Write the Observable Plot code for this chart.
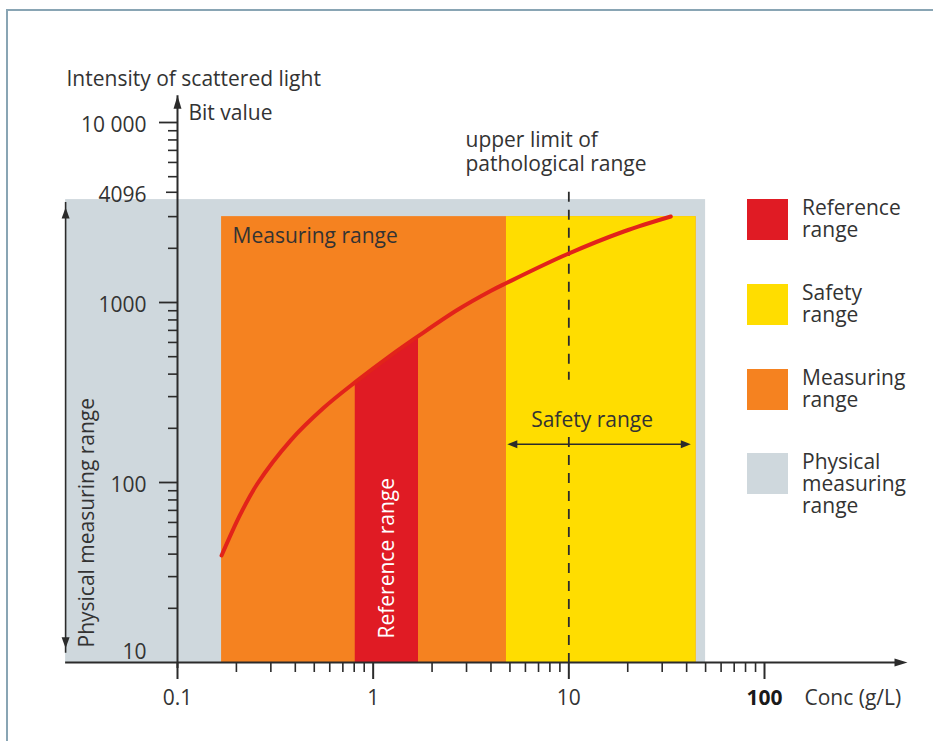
<!DOCTYPE html>
<html>
<head>
<meta charset="utf-8">
<script src="https://cdn.jsdelivr.net/npm/d3@7"></script>
<script src="https://cdn.jsdelivr.net/npm/@observablehq/plot@0.6"></script>
<style>
  body { margin: 0; background: #fff; font-family: 'Open Sans', sans-serif; }
  #wrap { position: relative; width: 933px; height: 741px; overflow: hidden; }
  #wrap svg { position: absolute; left: 0; top: 0; }
  #frame { position: absolute; left: 6px; top: 9px; width: 1000px; height: 1000px;
           border-left: 2px solid #89a5b4; border-top: 2px solid #89a5b4; pointer-events: none; }
  #legend { position: absolute; left: 747px; top: 199px; }
  .item { position: absolute; left: 0; }
  .sw { position: absolute; left: 0; top: 0; width: 41px; height: 41px; }
  .lb { position: absolute; left: 55px; top: -3px; font-size: 21px; line-height: 22px;
        color: #333; white-space: pre; }
</style>
</head>
<body>
<div id="wrap"><div id="frame"></div></div>
<script>
// ---------- data ----------
const concValues      = [0.168, 0.21, 0.256, 0.378, 0.559, 0.81, 1.226, 1.705, 2.69, 3.98, 4.8, 9.73, 19.1, 33.2];
const intensityValues = [39.3, 66.9, 98.4, 171, 260, 361, 507, 652, 908, 1158, 1283, 1848, 2480, 3005];

const physicalRangeConc       = [0.0268, 50];
const physicalRangeIntensity  = [10, 3730];
const measuringRangeConc      = [0.168, 44.7];
const measuringRangeIntensity = [10, 3000];
const safetyRangeConc         = [4.8, 44.7];
const referenceRangeConc      = [0.81, 1.705];
const pathologicalUpperLimit  = 10;
const dashedSegments          = [[4100, 370], [178, 10]];
const safetyArrowConc         = [4.85, 42];
const safetyArrowIntensity    = 163;
const physicalArrowIntensity  = [12, 3370];
const xAxisExtent             = [0.0268, 538];
const yAxisExtent             = [10, 14100];

const xMajorTicks = [0.1, 1, 10, 100];
const xMinorTicks = [0.2, 0.3, 0.4, 0.5, 0.6, 0.7, 0.8, 0.9, 2, 3, 4, 5, 6, 7, 8, 9, 20, 30, 40, 50, 60, 70, 80, 90];
const xTickLabels = ["0.1", "1", "10", "100"];
const yMajorTicks = [100, 1000, 10000];
const yMinorTicks = [20, 30, 40, 50, 60, 70, 80, 90, 200, 300, 400, 500, 600, 700, 800, 900, 2000, 3000, 5000, 6000, 7000, 8000, 9000];
const yBitTick    = [4096];
const yTickValues = [10, 100, 1000, 4096, 10000];
const yTickLabels = ["10", "100", "1000", "4096", "10 000"];

const annotationLines = ["upper limit of", "pathological range"];
const legendLabels = ["Reference\nrange", "Safety\nrange", "Measuring\nrange", "Physical\nmeasuring\nrange"];
const legendColors = ["#e01b24", "#ffdd00", "#f58220", "#cfd8dd"];

// ---------- styling ----------
const C = { grey: "#cfd8dd", orange: "#f58220", yellow: "#ffdd00", red: "#e01b24", curve: "#e2231a", ink: "#2b2b2b", text: "#333" };
const FONT = 21;

const curve = concValues.map((c, i) => ({ conc: c, intensity: intensityValues[i] }));
const refCurve = curve.filter(d => d.conc >= referenceRangeConc[0] && d.conc <= referenceRangeConc[1]);

function head(len, half, dir) {
  return { draw(ctx) {
    const pts = { up: [[0,0],[half,len],[-half,len]], down: [[0,0],[half,-len],[-half,-len]],
                  right: [[0,0],[-len,half],[-len,-half]], left: [[0,0],[len,half],[len,-half]] }[dir];
    ctx.moveTo(pts[0][0], pts[0][1]); ctx.lineTo(pts[1][0], pts[1][1]); ctx.lineTo(pts[2][0], pts[2][1]); ctx.closePath();
  }};
}

const ML = 177, MT = 122, MR = 933 - 764, MB = 741 - 662;
const txt = { fill: C.text, fontSize: FONT, fontFamily: "'Open Sans', sans-serif" };

const plot = Plot.plot({
  width: 933, height: 741,
  marginLeft: ML, marginTop: MT, marginRight: MR, marginBottom: MB,
  style: { background: "transparent", overflow: "visible", fontFamily: "'Open Sans', sans-serif" },
  x: { type: "log", domain: [0.1, 100], axis: null },
  y: { type: "log", domain: [10, 10000], axis: null },
  marks: [
    // ranges
    Plot.rect([0], { x1: physicalRangeConc[0], x2: physicalRangeConc[1], y1: physicalRangeIntensity[0], y2: physicalRangeIntensity[1], fill: C.grey }),
    Plot.rect([0], { x1: measuringRangeConc[0], x2: measuringRangeConc[1], y1: measuringRangeIntensity[0], y2: measuringRangeIntensity[1], fill: C.orange }),
    Plot.rect([0], { x1: safetyRangeConc[0], x2: safetyRangeConc[1], y1: measuringRangeIntensity[0], y2: measuringRangeIntensity[1], fill: C.yellow }),
    Plot.areaY(refCurve, { x: "conc", y1: 10, y2: "intensity", fill: C.red, curve: "catmull-rom" }),
    // pathological upper limit (dashed)
    ...dashedSegments.map(s => Plot.ruleX([pathologicalUpperLimit], { y1: s[0], y2: s[1], stroke: C.ink, strokeWidth: 1.8, strokeDasharray: "10,8" })),
    // calibration curve
    Plot.line(curve, { x: "conc", y: "intensity", stroke: C.curve, strokeWidth: 4, strokeLinecap: "round", curve: "catmull-rom" }),
    // axes lines + arrowheads
    Plot.ruleY([10], { x1: xAxisExtent[0], x2: xAxisExtent[1], stroke: C.ink, strokeWidth: 2, insetRight: 6 }),
    Plot.dot([0], { x: xAxisExtent[1], y: 10, symbol: head(13, 4, "right"), fill: C.ink, stroke: "none" }),
    Plot.ruleX([0.1], { y1: yAxisExtent[0], y2: yAxisExtent[1], stroke: C.ink, strokeWidth: 2, insetTop: 6 }),
    Plot.dot([0], { x: 0.1, y: yAxisExtent[1], symbol: head(13, 4, "up"), fill: C.ink, stroke: "none" }),
    // physical measuring range arrow
    Plot.ruleX([physicalRangeConc[0]], { y1: physicalArrowIntensity[0], y2: physicalArrowIntensity[1], stroke: C.ink, strokeWidth: 1.6, insetTop: 5, insetBottom: 5 }),
    Plot.dot([0], { x: physicalRangeConc[0], y: physicalArrowIntensity[1], symbol: head(11, 4, "up"), fill: C.ink, stroke: "none" }),
    Plot.dot([0], { x: physicalRangeConc[0], y: physicalArrowIntensity[0], symbol: head(11, 4, "down"), fill: C.ink, stroke: "none" }),
    // safety range arrow
    Plot.ruleY([safetyArrowIntensity], { x1: safetyArrowConc[0], x2: safetyArrowConc[1], stroke: C.ink, strokeWidth: 1.6, insetLeft: 5, insetRight: 5 }),
    Plot.dot([0], { x: safetyArrowConc[0], y: safetyArrowIntensity, symbol: head(10, 4, "left"), fill: C.ink, stroke: "none" }),
    Plot.dot([0], { x: safetyArrowConc[1], y: safetyArrowIntensity, symbol: head(10, 4, "right"), fill: C.ink, stroke: "none" }),
    // ticks
    Plot.axisX({ ticks: xMajorTicks, tickSize: 17, stroke: C.ink, strokeWidth: 2, fill: "none", label: null }),
    Plot.axisX({ ticks: xMinorTicks, tickSize: 10, stroke: C.ink, strokeWidth: 1.6, fill: "none", label: null }),
    Plot.axisY({ ticks: yMajorTicks, tickSize: 18, stroke: C.ink, strokeWidth: 1.8, fill: "none", label: null }),
    Plot.axisY({ ticks: yMinorTicks, tickSize: 9, stroke: C.ink, strokeWidth: 1.6, fill: "none", label: null }),
    Plot.axisY({ ticks: yBitTick, tickSize: 11, stroke: C.ink, strokeWidth: 1.6, fill: "none", label: null }),
    // tick labels
    Plot.text([0], { x: 0.1, y: yTickValues[0], text: () => yTickLabels[0], dx: -31, dy: -4, textAnchor: "end", lineAnchor: "bottom", ...txt }),
    Plot.text([1, 2, 3, 4], { x: 0.1, y: i => yTickValues[i], text: i => yTickLabels[i], dx: -31, dy: 3, textAnchor: "end", lineAnchor: "middle", ...txt }),
    Plot.text([0, 1, 2], { x: i => xMajorTicks[i], y: 10, text: i => xTickLabels[i], dy: 42, lineAnchor: "bottom", ...txt }),
    Plot.text([3], { x: i => xMajorTicks[i], y: 10, text: i => xTickLabels[i], dy: 42, lineAnchor: "bottom", fontWeight: "bold", ...txt, fill: "#1a1a1a" }),
    Plot.text(["Conc (g/L)"], { x: 100, y: 10, text: d => d, dx: 40, dy: 42, textAnchor: "start", lineAnchor: "bottom", ...txt }),
    // axis titles
    Plot.text(["Intensity of scattered light"], { frameAnchor: "top-left", text: d => d, dx: 66 - ML, dy: 85 - MT, textAnchor: "start", lineAnchor: "bottom", ...txt }),
    Plot.text(["Bit value"], { frameAnchor: "top-left", text: d => d, dx: 188 - ML, dy: 119 - MT, textAnchor: "start", lineAnchor: "bottom", ...txt }),
    // annotations
    Plot.text([annotationLines[0]], { frameAnchor: "top-left", text: d => d, dx: 465 - ML, dy: 146 - MT, textAnchor: "start", lineAnchor: "bottom", ...txt }),
    Plot.text([annotationLines[1]], { frameAnchor: "top-left", text: d => d, dx: 465 - ML, dy: 170 - MT, textAnchor: "start", lineAnchor: "bottom", ...txt }),
    Plot.text(["Measuring range"], { x: measuringRangeConc[0], y: measuringRangeIntensity[1], text: d => d, dx: 11, dy: 26, textAnchor: "start", lineAnchor: "bottom", ...txt }),
    Plot.text(["Safety range"], { x: Math.sqrt(safetyArrowConc[0] * safetyArrowConc[1]), y: safetyArrowIntensity, text: d => d, dx: -7, dy: -17, textAnchor: "middle", lineAnchor: "bottom", ...txt }),
    Plot.text(["Reference range"], { x: Math.sqrt(referenceRangeConc[0] * referenceRangeConc[1]), y: 10, text: d => d, dy: -24, rotate: -90, textAnchor: "start", lineAnchor: "middle", ...txt, fill: "#fff" }),
    Plot.text(["Physical measuring range"], { x: physicalRangeConc[0], y: 10, text: d => d, dx: 28, dy: -15, rotate: -90, textAnchor: "start", lineAnchor: "bottom", ...txt })
  ]
});

const wrap = document.getElementById("wrap");
wrap.insertBefore(plot, wrap.firstChild);

// legend
const legend = document.createElement("div");
legend.id = "legend";
const offsets = [0, 85, 170, 254];
legendLabels.forEach((lab, i) => {
  const item = document.createElement("div");
  item.className = "item";
  item.style.top = offsets[i] + "px";
  const sw = document.createElement("div");
  sw.className = "sw"; sw.style.background = legendColors[i];
  const lb = document.createElement("div");
  lb.className = "lb"; lb.textContent = lab;
  item.appendChild(sw); item.appendChild(lb);
  legend.appendChild(item);
});
wrap.appendChild(legend);
</script>
</body>
</html>
